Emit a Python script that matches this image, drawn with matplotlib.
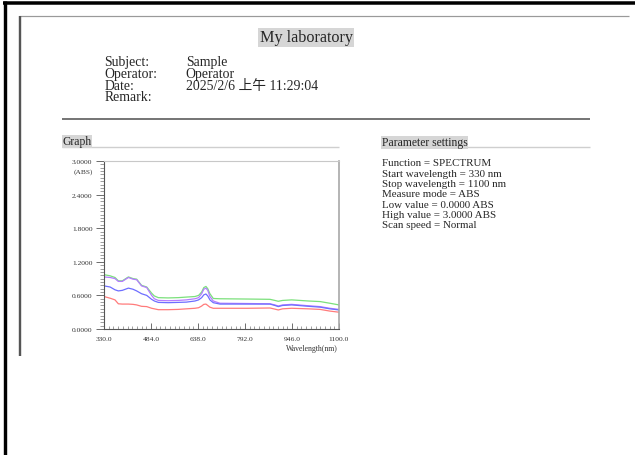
import matplotlib
matplotlib.use("Agg")
import matplotlib.pyplot as plt
from matplotlib.lines import Line2D
from matplotlib.transforms import Affine2D
from matplotlib.ticker import FixedLocator, AutoMinorLocator

W, H = 635, 456

# ---- report header ----
lab_title = "My laboratory"
info_keys = ["Subject:", "Operator:", "Date:", "Remark:"]
info_vals = ["Sample", "Operator", "2025/2/6 上午 11:29:04", ""]

param_title = "Parameter settings"
param_lines = [
    "Function = SPECTRUM",
    "Start wavelength = 330 nm",
    "Stop wavelength = 1100 nm",
    "Measure mode = ABS",
    "Low value = 0.0000 ABS",
    "High value = 3.0000 ABS",
    "Scan speed = Normal",
]

# ---- spectrum data (absorbance vs wavelength, nm) ----
wavelength = [330, 350, 366, 377, 390, 410, 425, 437, 453, 470, 486, 495, 508,
              540, 573, 600, 628, 640, 650, 657, 664, 670, 677, 688, 710, 800,
              874, 890, 901, 915, 945, 1000, 1038, 1070, 1100]
abs_green = [0.97, 0.95, 0.92, 0.86, 0.86, 0.93, 0.90, 0.89, 0.78, 0.75, 0.64, 0.59, 0.56,
             0.555, 0.56, 0.57, 0.58, 0.60, 0.66, 0.74, 0.76, 0.72, 0.63, 0.545, 0.54, 0.535,
             0.53, 0.51, 0.495, 0.51, 0.52, 0.50, 0.49, 0.46, 0.43]
abs_violet = [0.93, 0.92, 0.90, 0.85, 0.85, 0.92, 0.89, 0.88, 0.77, 0.74, 0.60, 0.54, 0.51,
              0.505, 0.51, 0.52, 0.54, 0.56, 0.63, 0.71, 0.73, 0.69, 0.58, 0.50, 0.46, 0.455,
              0.45, 0.43, 0.41, 0.43, 0.44, 0.415, 0.40, 0.37, 0.35]
abs_blue = [0.77, 0.75, 0.70, 0.68, 0.69, 0.73, 0.71, 0.68, 0.63, 0.60, 0.53, 0.50, 0.475,
            0.47, 0.475, 0.48, 0.50, 0.52, 0.56, 0.61, 0.625, 0.59, 0.52, 0.47, 0.445, 0.445,
            0.445, 0.42, 0.40, 0.42, 0.43, 0.405, 0.39, 0.36, 0.34]
abs_red = [0.58, 0.55, 0.52, 0.45, 0.445, 0.445, 0.44, 0.43, 0.405, 0.40, 0.37, 0.36, 0.345,
           0.345, 0.35, 0.36, 0.37, 0.38, 0.41, 0.44, 0.445, 0.42, 0.39, 0.37, 0.37, 0.37,
           0.375, 0.355, 0.34, 0.36, 0.37, 0.36, 0.35, 0.32, 0.30]

x_ticks = [330.0, 484.0, 638.0, 792.0, 946.0, 1100.0]
y_ticks = [0.0, 0.6, 1.2, 1.8, 2.4, 3.0]
x_label = "Wavelength(nm)"
y_unit = "(ABS)"

SERIF = ["Liberation Serif", "Noto Sans CJK SC"]
TXT = "#262626"

fig = plt.figure(figsize=(W / 100, H / 100), dpi=100)
fig.patch.set_facecolor("white")

# pixel coordinates (origin top-left) -> figure
px = Affine2D().scale(1 / W, -1 / H).translate(0, 1) + fig.transFigure


def hline(x0, x1, y, color, lw_px):
    fig.add_artist(Line2D([x0, x1], [y, y], transform=px, color=color,
                          linewidth=lw_px * 0.72, solid_capstyle="butt"))


def vline(x, y0, y1, color, lw_px):
    fig.add_artist(Line2D([x, x], [y0, y1], transform=px, color=color,
                          linewidth=lw_px * 0.72, solid_capstyle="butt"))


def text(x, y, s, size, **kw):
    kw.setdefault("color", TXT)
    kw.setdefault("va", "center")
    kw.setdefault("ha", "left")
    fig.text(x, y, s, transform=px, fontsize=size, family=SERIF, **kw)


# page frames
hline(3.3, 635, 3.5, "black", 3.5)
vline(5.0, 1.8, 456, "black", 3.4)
hline(18.5, 629, 17.2, "#9a9a9a", 1.2)
vline(19.5, 16.6, 357, "#555555", 2.4)

# title
text(306, 38.5, lab_title, 11.6, ha="center",
     bbox=dict(facecolor="#d6d6d6", edgecolor="none", pad=0.8))

# info block
for i, (k, v) in enumerate(zip(info_keys, info_vals)):
    y = 62.7 + i * 11.7
    text(104.3, y, k, 9.9)
    if v:
        text(185.7, y, v, 9.9)

hline(62.3, 590, 120, "#777777", 2.0)

# section headers
text(62.3, 142.5, "Graph", 8.4,
     bbox=dict(facecolor="#d6d6d6", edgecolor="none", pad=0.5))
hline(62.3, 339, 147.5, "#cfcfcf", 1.4)

text(381.5, 143.5, param_title, 8.4,
     bbox=dict(facecolor="#d6d6d6", edgecolor="none", pad=0.5))
hline(381.5, 590, 148, "#cfcfcf", 1.4)

for i, s in enumerate(param_lines):
    text(381.7, 164 + i * 10.3, s, 7.9)

# spectrum axes
ax = fig.add_axes([104 / W, 1 - 330 / H, 235 / W, 168 / H])
ax.plot(wavelength, abs_green, color="#7be07b", lw=0.9)
ax.plot(wavelength, abs_violet, color="#b47cff", lw=0.9)
ax.plot(wavelength, abs_blue, color="#6e6eff", lw=0.9)
ax.plot(wavelength, abs_red, color="#ff7b7b", lw=0.9)

ax.set_xlim(330, 1100)
ax.set_ylim(0, 3.0)

ax.xaxis.set_major_locator(FixedLocator(x_ticks))
ax.yaxis.set_major_locator(FixedLocator(y_ticks))
ax.xaxis.set_minor_locator(AutoMinorLocator(10))
ax.yaxis.set_minor_locator(AutoMinorLocator(10))
ax.set_xticklabels([f"{v:.1f}" for v in x_ticks], family=SERIF, fontsize=5.4, color="#333333")
ax.set_yticklabels([f"{v:.4f}" for v in y_ticks], family=SERIF, fontsize=5.4, color="#333333")

ax.tick_params(axis="y", which="major", direction="out", length=6, width=0.6,
               color="#555555", pad=2.2)
ax.tick_params(axis="y", which="minor", direction="out", length=3, width=0.5,
               color="#777777")
ax.tick_params(axis="x", which="major", direction="in", length=4.5, width=0.6,
               color="#555555", pad=5.0)
ax.tick_params(axis="x", which="minor", direction="in", length=2.5, width=0.5,
               color="#777777")

for side, col, lw in [("left", "#555555", 0.8), ("bottom", "#555555", 0.8),
                      ("top", "#c8c8c8", 0.8), ("right", "#a8a8a8", 1.2)]:
    ax.spines[side].set_color(col)
    ax.spines[side].set_linewidth(lw)

text(83, 172, y_unit, 5.3, ha="center", color="#333333")
text(311.5, 349, x_label, 5.6, ha="center", color="#333333")

fig.savefig("out.png", dpi=100, facecolor="white")
